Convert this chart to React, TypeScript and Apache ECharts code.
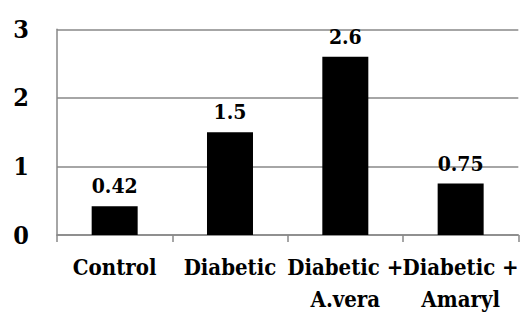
import React, { useEffect, useRef } from "react";
import * as echarts from "echarts";

const categories = ["Control", "Diabetic", "Diabetic +\nA.vera", "Diabetic +\nAmaryl"];
const values = [0.42, 1.5, 2.6, 0.75];
const valueLabels = ["0.42", "1.5", "2.6", "0.75"];
const yTicks = [0, 1, 2, 3];

export default function App() {
  const ref = useRef<HTMLDivElement>(null);
  useEffect(() => {
    if (!ref.current) return;
    const chart = echarts.init(ref.current, null, { renderer: "svg" });
    chart.setOption({
      animation: false,
      backgroundColor: "#ffffff",
      grid: { left: 57, top: 29.3, width: 467, height: 209, containLabel: false },
      xAxis: {
        type: "category",
        data: categories,
        axisLine: { show: true, lineStyle: { color: "#888888", width: 1.5 } },
        axisTick: { show: true, length: 7, alignWithLabel: false, lineStyle: { color: "#888888", width: 1.5 } },
        axisLabel: {
          interval: 0,
          margin: 16,
          color: "#000",
          fontFamily: "DejaVu Serif Condensed",
          fontWeight: "bold",
          fontSize: 22,
          lineHeight: 32,
        },
      },
      yAxis: {
        type: "value",
        min: yTicks[0],
        max: yTicks[yTicks.length - 1],
        interval: 1,
        axisLine: { show: true, lineStyle: { color: "#888888", width: 1.5 } },
        axisTick: { show: false },
        splitLine: { show: true, lineStyle: { color: "#888888", width: 1.5 } },
        axisLabel: {
          margin: 28,
          color: "#000",
          fontFamily: "DejaVu Serif Condensed",
          fontWeight: "bold",
          fontSize: 25,
        },
      },
      series: [
        {
          type: "bar",
          data: values,
          barWidth: 46,
          itemStyle: { color: "#000" },
          label: {
            show: true,
            position: "top",
            distance: 10,
            color: "#000",
            fontFamily: "DejaVu Serif Condensed",
            fontWeight: "bold",
            fontSize: 21,
            formatter: (p: any) => valueLabels[p.dataIndex],
          },
        },
      ],
    });
    return () => chart.dispose();
  }, []);
  return <div ref={ref} style={{ width: 521, height: 315, position: "absolute", left: 0, top: 0 }} />;
}
